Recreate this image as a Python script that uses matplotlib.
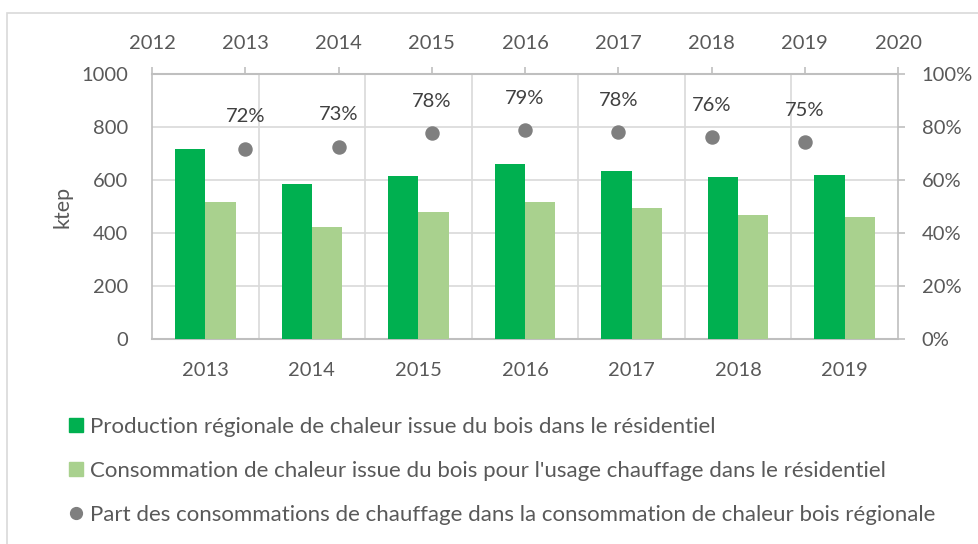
import matplotlib
matplotlib.use("Agg")
import matplotlib.pyplot as plt
from matplotlib.patches import Rectangle
from matplotlib.lines import Line2D
import numpy as np

plt.rcParams['font.family'] = ['Lato', 'DejaVu Sans']

years = ["2013", "2014", "2015", "2016", "2017", "2018", "2019"]
production = [720, 585, 618, 660, 634, 614, 620]
consommation = [520, 425, 480, 520, 495, 468, 461]
part = [0.72, 0.727, 0.777, 0.788, 0.781, 0.762, 0.744]
part_labels = ["72%", "73%", "78%", "79%", "78%", "76%", "75%"]
top_years = [2012, 2013, 2014, 2015, 2016, 2017, 2018, 2019, 2020]
point_years = [2013, 2014, 2015, 2016, 2017, 2018, 2019]
legend_labels = [
    "Production régionale de chaleur issue du bois dans le résidentiel",
    "Consommation de chaleur issue du bois pour l'usage chauffage dans le résidentiel",
    "Part des consommations de chauffage dans la consommation de chaleur bois régionale",
]

DARK = "#00B050"
LIGHT = "#A9D18E"
GREY_PT = "#7F7F7F"
TXT = "#595959"
LBL = "#404040"
GRID = "#D9D9D9"
SPINE = "#BFBFBF"
FS = 14.5
FS_LEG = 16

W, H = 979, 544
fig = plt.figure(figsize=(W / 100, H / 100), dpi=100)
fig.patches.append(Rectangle((7 / W, -0.1), 1.2, 1 - 13 / H + 0.1,
                             transform=fig.transFigure, fill=False,
                             edgecolor=GRID, lw=1.2))

left, right, top, bottom = 152 / W, 898 / W, 74.3 / H, 339.3 / H
ax = fig.add_axes([left, 1 - bottom, right - left, bottom - top])

x = np.arange(len(years))
bw = 0.284
ax.bar(x - bw / 2, production, bw, color=DARK, zorder=3)
ax.bar(x + bw / 2, consommation, bw, color=LIGHT, zorder=3)
ax.set_xlim(-0.5, len(years) - 0.5)
ax.set_ylim(0, 1000)
ax.set_yticks(range(0, 1001, 200))
ax.set_xticks(x)
ax.set_xticklabels(years)
ax.set_xticks(x[:-1] + 0.5, minor=True)
ax.yaxis.grid(True, color=GRID, lw=1.2, zorder=0)
ax.xaxis.grid(True, which='minor', color=GRID, lw=1.2, zorder=0)
ax.set_axisbelow(True)
ax.tick_params(axis='both', which='both', length=0, labelsize=FS, labelcolor=TXT)
ax.tick_params(axis='y', pad=17)
ax.tick_params(axis='x', pad=16)
for s in ['top', 'right']:
    ax.spines[s].set_visible(False)
ax.spines['left'].set_color(SPINE)
ax.spines['bottom'].set_color(SPINE)
ax.spines['left'].set_linewidth(1.2)
ax.spines['bottom'].set_linewidth(1.5)

ax2 = ax.twinx()
ax2.set_ylim(0, 1)
ax2.set_yticks(np.linspace(0, 1, 6))
ax2.set_yticklabels([f"{int(round(v*100))}%" for v in np.linspace(0, 1, 6)])
ax2.tick_params(axis='y', direction='out', length=5, color=SPINE, width=1.2,
                labelsize=FS, labelcolor=TXT, pad=12)
for s in ['top', 'left', 'bottom']:
    ax2.spines[s].set_visible(False)
ax2.spines['right'].set_color(SPINE)
ax2.spines['right'].set_linewidth(1.2)

ax3 = ax2.twiny()
ax3.set_xlim(top_years[0], top_years[-1])
ax3.set_xticks(top_years)
ax3.set_xticklabels([str(y) for y in top_years])
ax3.tick_params(axis='x', direction='out', length=5, color=SPINE, width=1.2,
                labelsize=FS, labelcolor=TXT, pad=11)
for s in ['left', 'right', 'bottom']:
    ax3.spines[s].set_visible(False)
ax3.spines['top'].set_color(SPINE)
ax3.spines['top'].set_linewidth(1.5)
ax3.plot(point_years, part, 'o', color=GREY_PT, markersize=9.4, zorder=5)
for xv, yv, lab in zip(point_years, part, part_labels):
    ax3.annotate(lab, (xv, yv), xytext=(0, 23), textcoords='offset points',
                 ha='center', va='center', fontsize=FS, color=LBL)

fig.text(62 / W, 1 - 207 / H, "ktep", rotation=90, ha='center', va='center',
         fontsize=FS + 1, color=TXT)

handles = [
    Line2D([], [], marker='s', ls='', color=DARK, markersize=9.5),
    Line2D([], [], marker='s', ls='', color=LIGHT, markersize=9.5),
    Line2D([], [], marker='o', ls='', color=GREY_PT, markersize=8.5),
]
leg = fig.legend(handles, legend_labels, loc='upper left',
                 bbox_to_anchor=(68.5 / W, 1 - 417 / H), frameon=False,
                 fontsize=FS_LEG, labelcolor=TXT, handlelength=0.7,
                 handletextpad=0.27, labelspacing=1.08, borderpad=0,
                 borderaxespad=0)

fig.savefig("out.png", dpi=100)
